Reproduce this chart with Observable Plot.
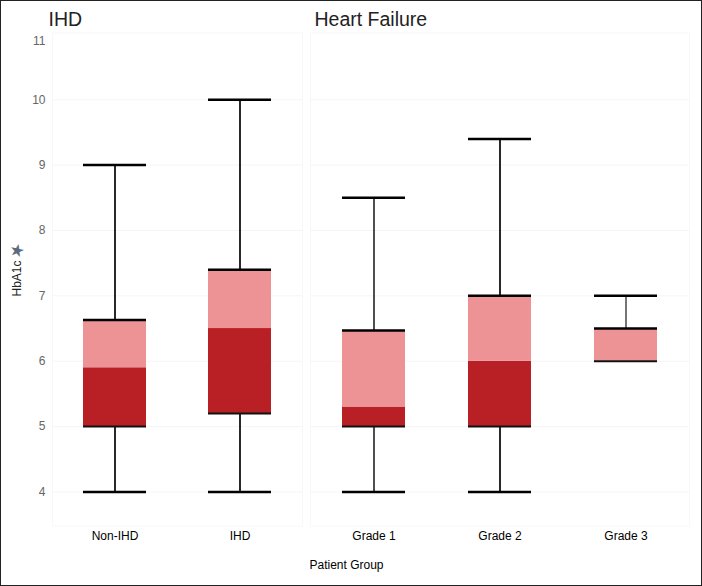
<!DOCTYPE html>
<html>
<head>
<meta charset="utf-8">
<script src="https://cdn.jsdelivr.net/npm/d3@7"></script>
<script src="https://cdn.jsdelivr.net/npm/@observablehq/plot@0.6"></script>
<style>
html,body{margin:0;padding:0;background:#fff}
#chart{position:relative;width:702px;height:586px;display:flex;box-sizing:border-box;box-shadow:inset 0 0 0 1px #222;overflow:hidden}
#chart svg{display:block;flex:none;background:none}
</style>
</head>
<body>
<div id="chart"></div>
<script>
const groupsIHD = ["Non-IHD", "IHD"];
const groupsHF = ["Grade 1", "Grade 2", "Grade 3"];
const categories = [...groupsIHD, ...groupsHF];
const whiskerLow = [4, 4, 4, 4, 6];
const quartile1 = [5, 5.2, 5, 5, 6];
const median = [5.9, 6.5, 5.3, 6, 6];
const quartile3 = [6.63, 7.4, 6.47, 7, 6.5];
const whiskerHigh = [9, 10, 8.5, 9.4, 7];
const yTicks = [4, 5, 6, 7, 8, 9, 10];
const topTick = [11];

const table = categories.map((group, i) => ({
  group, low: whiskerLow[i], q1: quartile1[i], med: median[i], q3: quartile3[i], high: whiskerHigh[i]
}));

const font = "'Liberation Sans', Arial, sans-serif";
const softStem = new Set(["Grade 1", "Grade 3"]);
const stemStroke = d => softStem.has(d.group) ? "#3c3c3c" : "#111";
const stemWidth = d => d.group === "Grade 3" ? 1.4 : 1.8;

function panel(domain, title, titleDx, width, marginLeft, marginRight, extras) {
  const rows = table.filter(d => domain.includes(d.group));
  return Plot.plot({
    width, height: 586,
    marginTop: 32.5, marginBottom: 60.5, marginLeft, marginRight,
    style: {fontFamily: font, background: "none", overflow: "visible"},
    x: {type: "band", domain, paddingInner: 0.5, paddingOuter: 0.25, label: null},
    y: {domain: [3.48, 11.02], label: null, axis: null},
    marks: [
      Plot.frame({stroke: "#f8f8f8"}),
      Plot.gridY(yTicks, {stroke: "#f5f5f5", strokeOpacity: 1}),
      Plot.ruleX(rows, {x: "group", y1: "low", y2: "q1", stroke: stemStroke, strokeWidth: stemWidth}),
      Plot.ruleX(rows, {x: "group", y1: "q3", y2: "high", stroke: stemStroke, strokeWidth: stemWidth}),
      Plot.barY(rows, {x: "group", y1: "q1", y2: "med", fill: "#b92025"}),
      Plot.barY(rows, {x: "group", y1: "med", y2: "q3", fill: "#ed9396"}),
      Plot.tickY(rows.filter(d => d.low < d.q1), {x: "group", y: "low", stroke: "#000", strokeWidth: 2.5}),
      Plot.tickY(rows, {x: "group", y: "q1", stroke: "#111", strokeWidth: 2}),
      Plot.tickY(rows, {x: "group", y: "q3", stroke: "#000", strokeWidth: 2.5}),
      Plot.tickY(rows, {x: "group", y: "high", stroke: "#000", strokeWidth: 2.5}),
      Plot.axisX({tickSize: 0, tickPadding: 5, fontSize: 12, color: "#000", label: null}),
      Plot.text([title], {text: d => d, frameAnchor: "top-left", dx: titleDx, dy: -21, textAnchor: "start", lineAnchor: "top", fontSize: 19.5, fill: "#222"}),
      ...extras
    ]
  });
}

const leftExtras = [
  Plot.axisY(yTicks, {tickSize: 0, tickPadding: 7, fontSize: 12, color: "#666", label: null, tickFormat: d => String(d)}),
  Plot.text(topTick, {y: d => d, text: d => String(d), frameAnchor: "left", dx: -7, dy: 7, textAnchor: "end", fontSize: 12, fill: "#666"}),
  Plot.text(["HbA1c"], {text: d => d, frameAnchor: "left", dx: -35, dy: -1, rotate: -90, textAnchor: "middle", fontSize: 12, fill: "#222"}),
  Plot.text(["★"], {text: d => d, frameAnchor: "left", dx: -35, dy: -29, rotate: -60, textAnchor: "middle", fontSize: 17, fill: "#5a6b7d"})
];
const rightExtras = [
  Plot.text(["Patient Group"], {text: d => d, frameAnchor: "bottom-left", dx: 36, dy: 43, textAnchor: "middle", fontSize: 12, fill: "#000"})
];

const root = document.getElementById("chart");
root.append(
  panel(groupsIHD, "IHD", -4, 306, 52, 4, leftExtras),
  panel(groupsHF, "Heart Failure", 4, 396, 4, 13, rightExtras)
);
</script>
</body>
</html>
